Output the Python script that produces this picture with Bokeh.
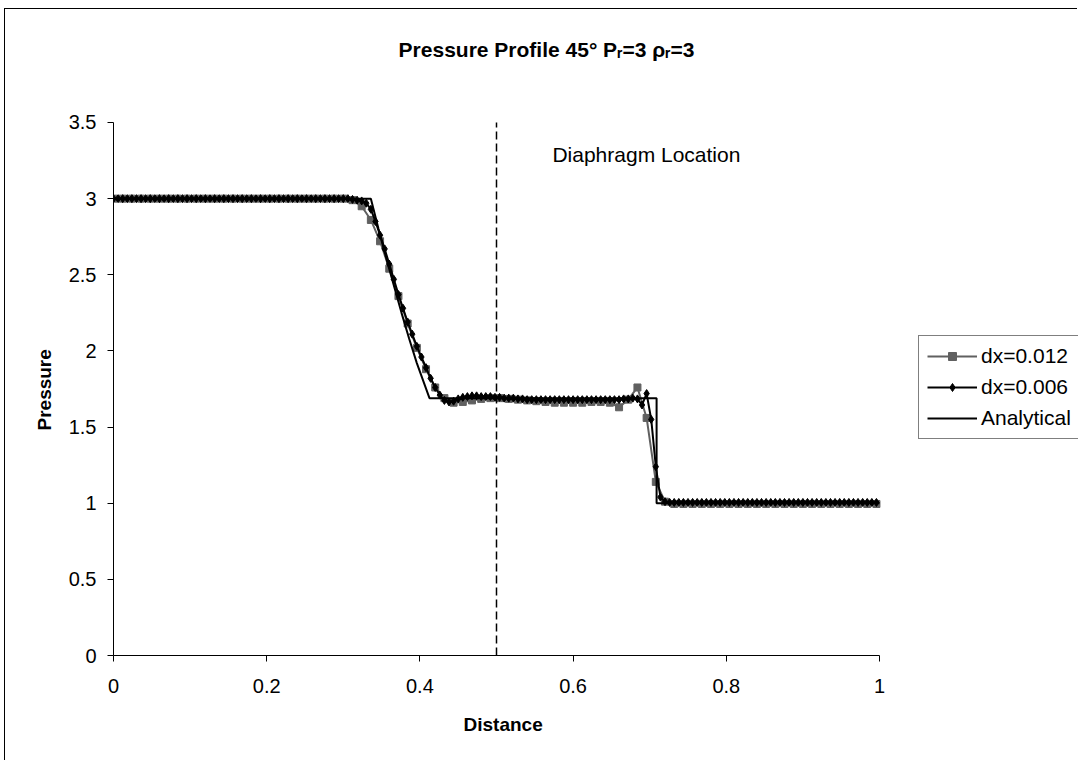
import numpy as np
from bokeh.plotting import figure
from bokeh.models import Range1d, Legend, LegendItem, Label, FixedTicker, Title
from bokeh.embed import file_html
from bokeh.resources import INLINE

# ---------------- data ----------------
dx_coarse = 0.012
dx_fine = 0.006

p_coarse = [3.0] * 26 + [
    2.99, 2.95, 2.86, 2.72, 2.54, 2.36, 2.18, 2.02, 1.88, 1.76,
    1.69, 1.66, 1.665, 1.675, 1.685, 1.69, 1.69, 1.685, 1.68, 1.675,
    1.67, 1.665, 1.66, 1.66, 1.66, 1.66, 1.665, 1.665, 1.66, 1.63,
    1.68, 1.76, 1.56, 1.14, 1.01,
] + [0.995] * 23
x_coarse = [round(dx_coarse * i, 4) for i in range(len(p_coarse))]

p_fine = [3.0] * 52 + [
    2.995, 2.99, 2.985, 2.97, 2.93, 2.85, 2.76, 2.67, 2.57, 2.47,
    2.37, 2.28, 2.19, 2.11, 2.03, 1.96, 1.89, 1.82, 1.76, 1.71,
    1.675, 1.665, 1.67, 1.685, 1.695, 1.70, 1.705, 1.705, 1.70, 1.70,
    1.70, 1.695, 1.695, 1.69, 1.69, 1.69, 1.685, 1.685,
] + [1.68] * 21 + [
    1.685, 1.685, 1.69, 1.685, 1.645, 1.72, 1.55, 1.24, 1.04, 1.01,
] + [1.005] * 46
x_fine = [round(dx_fine * i, 4) for i in range(len(p_fine))]

x_analytical = [0.0, 0.336, 0.346, 0.356, 0.366, 0.376, 0.386, 0.396, 0.4125, 0.709, 0.709, 1.0]
p_analytical = [3.0, 3.0, 2.80, 2.61, 2.43, 2.25, 2.08, 1.92, 1.69, 1.69, 1.0, 1.0]

diaphragm_x = 0.5
annot_text = "Diaphragm Location"
annot_x, annot_y = 0.573, 3.29

x_ticks = [0, 0.2, 0.4, 0.6, 0.8, 1.0]
x_tick_labels = ["0", "0.2", "0.4", "0.6", "0.8", "1"]
y_ticks = [0, 0.5, 1.0, 1.5, 2.0, 2.5, 3.0, 3.5]
y_tick_labels = ["0", "0.5", "1", "1.5", "2", "2.5", "3", "3.5"]

title_text = "Pressure Profile 45\u00b0 P\u1d63=3 \u03c1\u1d63=3"
x_label = "Distance"
y_label = "Pressure"
FONT = "Liberation Sans"

# ---------------- figure ----------------
# The frame covers the axes' extent plus extra room (right/top) for legend and title;
# the axes themselves are bounded to the data extent.
X_END = 1.2598
Y_END = 4.242
p = figure(width=1073, height=752, output_backend="svg", toolbar_location=None,
           x_range=Range1d(0, X_END), y_range=Range1d(0, Y_END),
           min_border_left=108, min_border_right=0, min_border_top=0, min_border_bottom=106)
p.title.visible = False
p.styles = {"border-left": "1px solid black", "border-top": "1px solid black",
            "margin-left": "4px", "margin-top": "8px"}
p.outline_line_color = None
p.xgrid.visible = False
p.ygrid.visible = False
p.background_fill_color = "white"
p.border_fill_color = "white"

for ax in (p.xaxis[0], p.yaxis[0]):
    ax.axis_line_color = "black"
    ax.major_tick_line_color = "black"
    ax.minor_tick_line_color = None
    ax.major_tick_in = 0
    ax.major_tick_out = 6
    ax.major_label_text_font = FONT
    ax.major_label_text_font_size = "20px"
    ax.major_label_text_color = "black"

p.xaxis.bounds = (x_ticks[0], x_ticks[-1])
p.yaxis.bounds = (y_ticks[0], y_ticks[-1])
p.xaxis.ticker = FixedTicker(ticks=x_ticks)
p.xaxis.major_label_overrides = {t: l for t, l in zip(x_ticks, x_tick_labels)}
p.yaxis.ticker = FixedTicker(ticks=y_ticks)
p.yaxis.major_label_overrides = {t: l for t, l in zip(y_ticks, y_tick_labels)}
p.xaxis.major_label_standoff = 17
p.yaxis.major_label_standoff = 11

# axis titles, placed along the bounded axes
p.add_layout(Title(text=x_label, align="left", offset=350, standoff=32,
                   text_font=FONT, text_font_size="19px", text_font_style="bold",
                   text_color="black"), "below")
p.add_layout(Title(text=y_label, align="left", offset=225, standoff=22,
                   text_font=FONT, text_font_size="19px", text_font_style="bold",
                   text_color="black"), "left")

GRAY = "#606060"
l1 = p.line(x_coarse, p_coarse, line_color=GRAY, line_width=2)
s1 = p.scatter(x_coarse, p_coarse, marker="square", size=7, fill_color=GRAY, line_color=GRAY)
l2 = p.line(x_fine, p_fine, line_color="black", line_width=2)
s2 = p.scatter(x_fine, p_fine, marker="diamond", size=8, fill_color="black", line_color="black")
l3 = p.line(x_analytical, p_analytical, line_color="black", line_width=2)

# diaphragm marker line over the plotted pressure extent
p.segment(x0=[diaphragm_x], y0=[y_ticks[0]], x1=[diaphragm_x], y1=[y_ticks[-1]],
          line_color="black", line_width=1.5, line_dash="8 4")
p.add_layout(Label(x=annot_x, y=annot_y, text=annot_text, text_font=FONT,
                   text_font_size="21px", text_baseline="middle", text_color="black"))

# chart title
p.add_layout(Label(x=0.5653, y=3.979, text=title_text, text_font=FONT,
                   text_font_size="21px", text_font_style="bold", text_align="center",
                   text_baseline="middle", text_color="black"))

legend = Legend(items=[LegendItem(label="dx=0.012", renderers=[l1, s1]),
                       LegendItem(label="dx=0.006", renderers=[l2, s2]),
                       LegendItem(label="Analytical", renderers=[l3])],
                location=(805, 216))
legend.border_line_color = "black"
legend.border_line_width = 1
legend.background_fill_color = "white"
legend.background_fill_alpha = 1
legend.padding = 8
legend.spacing = 7
legend.margin = 0
legend.glyph_width = 50
legend.glyph_height = 20
legend.label_standoff = 4
legend.label_text_font = FONT
legend.label_text_font_size = "21px"
legend.label_text_color = "black"
p.add_layout(legend)

open("out.html", "w").write(file_html(p, INLINE))
